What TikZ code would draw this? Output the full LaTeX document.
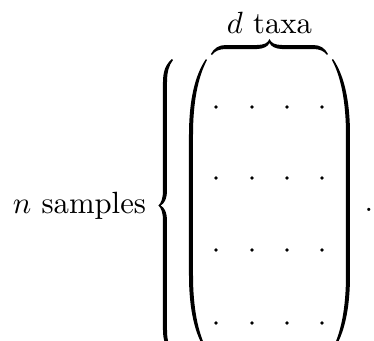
\documentclass[tikz,border=0pt]{standalone}
\begin{document}
\begin{tikzpicture}[x=0.3257pt,y=-0.3257pt,
  lbl/.style={inner sep=0pt, outer sep=0pt},
  delim/.style={fill=black, draw=none},
  dotmark/.style={circle, fill=black, inner sep=0pt, minimum size=1.25pt}]
\useasboundingbox (0,0) rectangle (374,341);
% labels
\node[lbl, anchor=base east] (ns) at (146,213) {$n$ samples};
\node[lbl, anchor=base] (dt) at (269.5,33) {$d$ taxa};
\node[lbl, anchor=base] (per) at (369,211.5) {.};
% left brace
\fill[delim] (172,59) .. controls (166,64) and (163,71) .. (163,82) -- (163,190)
  .. controls (163,199) and (161,203) .. (158.5,205.5)
  .. controls (161,208) and (163,212) .. (163,221) -- (163,330)
  .. controls (163,341) and (166,348) .. (172,353) -- (173,352)
  .. controls (169,347) and (167,340) .. (167,330) -- (167,221)
  .. controls (167,212) and (164,207) .. (160.5,205.5)
  .. controls (164,204) and (167,199) .. (167,190) -- (167,82)
  .. controls (167,72) and (169,65) .. (173,60) -- cycle;
% left parenthesis
\fill[delim] (206,59) .. controls (195,75) and (189,100) .. (189,135) -- (189,275)
  .. controls (189,310) and (195,335) .. (206,351) -- (207,350)
  .. controls (198,333) and (193,308) .. (193,275) -- (193,135)
  .. controls (193,102) and (198,77) .. (207,60) -- cycle;
% right parenthesis
\fill[delim] (333,59) .. controls (344,75) and (350,100) .. (350,135) -- (350,275)
  .. controls (350,310) and (344,335) .. (333,351) -- (332,350)
  .. controls (341,333) and (346,308) .. (346,275) -- (346,135)
  .. controls (346,102) and (341,77) .. (332,60) -- cycle;
% overbrace
\fill[delim] (211,54) .. controls (214,48) and (219,45) .. (226,45) -- (257,45)
  .. controls (264,45) and (268,43) .. (269.5,39)
  .. controls (271,43) and (275,45) .. (282,45) -- (313,45)
  .. controls (320,45) and (325,48) .. (328,54) -- (327,55)
  .. controls (324,51) and (320,49) .. (313,49) -- (282,49)
  .. controls (276,49) and (271,46.5) .. (269.5,43)
  .. controls (268,46.5) and (263,49) .. (257,49) -- (226,49)
  .. controls (219,49) and (215,51) .. (212,55) -- cycle;
% matrix entries
\foreach \i/\y in {1/107,2/178,3/250,4/323}
  \foreach \j/\x in {1/216,2/252,3/287,4/322}
    \node[dotmark] (m\i\j) at (\x,\y) {};
\end{tikzpicture}
\end{document}
